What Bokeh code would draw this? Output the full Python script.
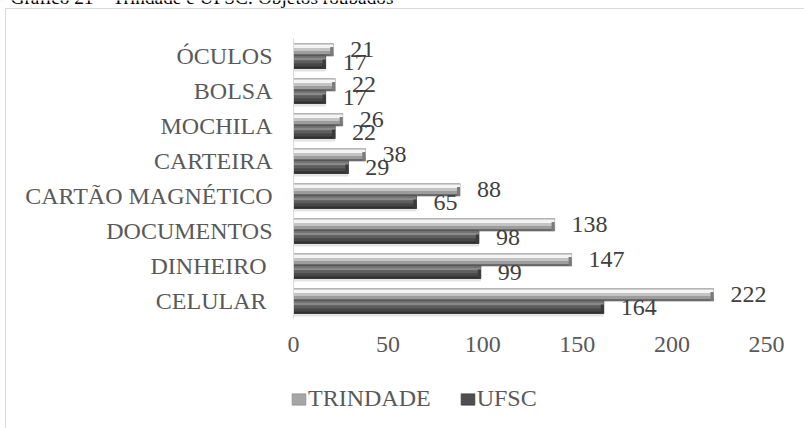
from bokeh.plotting import figure
from bokeh.models import (ColumnDataSource, Range1d, FixedTicker, Legend, LegendItem,
                          LinearAxis, Label)
from bokeh.transform import dodge
from bokeh.core.properties import value
from bokeh.embed import file_html
from bokeh.resources import INLINE

# ---- data ----
title_text = "Gráfico 21 – Trindade e UFSC: Objetos roubados"
categories = ["ÓCULOS", "BOLSA", "MOCHILA", "CARTEIRA", "CARTÃO MAGNÉTICO",
              "DOCUMENTOS", "DINHEIRO ", "CELULAR "]
trindade = [21, 22, 26, 38, 88, 138, 147, 222]
ufsc = [17, 17, 22, 29, 65, 98, 99, 164]
x_ticks = [0, 50, 100, 150, 200, 250]
series_names = ["TRINDADE", "UFSC"]

n = len(categories)
ypos = [n - 1 - i for i in range(n)]   # first category at the top

FONT = "Liberation Serif"
W, H = 804, 428
# plot-area geometry (pixels): value axis 0 at x=293, 250 at x=766,
# category band from y=38 to y=318
X0_PX, X1_PX = 293, 766
Y_TOP_PX, Y_BOT_PX = 38, 318
xs = (X1_PX - X0_PX) / (x_ticks[-1] - x_ticks[0])
UNIT = (Y_BOT_PX - Y_TOP_PX) / n
CAP = 3 / xs                  # bevelled bar end, 3 px wide

src = ColumnDataSource(dict(
    y=ypos,
    trindade=trindade,
    ufsc=ufsc,
    trindade_cap=[max(v - CAP, 0) for v in trindade],
    ufsc_cap=[max(v - CAP, 0) for v in ufsc],
    trindade_lbl=[str(v) for v in trindade],
    ufsc_lbl=[str(v) for v in ufsc],
))

x_range = Range1d(x_ticks[0] - X0_PX / xs, x_ticks[-1] + (W - X1_PX) / xs)
y_range = Range1d(min(ypos) - 0.5 - (H - Y_BOT_PX) / UNIT,
                  max(ypos) + 0.5 + Y_TOP_PX / UNIT)

p = figure(width=W, height=H, x_range=x_range, y_range=y_range,
           x_axis_location=None, y_axis_location=None,
           output_backend="svg", toolbar_location=None,
           min_border=0)
p.xgrid.grid_line_color = None
p.ygrid.grid_line_color = None
p.outline_line_color = None

# light chart-area border (behind the transparent canvas)
p.border_fill_alpha = 0
p.background_fill_alpha = 0
p.styles = {
    "background-color": "white",
    "background-image": "linear-gradient(#d9d9d9, #d9d9d9), linear-gradient(#d9d9d9, #d9d9d9)",
    "background-size": "799px 1px, 1px 420px",
    "background-position": "5px 8px, 5px 8px",
    "background-repeat": "no-repeat",
}

BAR = 12.5                     # px per bar
HB = BAR / UNIT

# gradient bands (top px, bottom px, colour) within each bar
t_bands = [(0, 1.5, "#cfcfcf"), (1.5, 4.5, "#f4f4f4"), (4.5, 7.5, "#c4c4c4"),
           (7.5, 10.5, "#9c9c9c"), (10.5, 12.5, "#6a6a6a")]
u_bands = [(0, 1.5, "#6f6f6f"), (1.5, 4.5, "#8a8a8a"), (4.5, 7.5, "#5e5e5e"),
           (7.5, 10.5, "#474747"), (10.5, 12.5, "#2e2e2e")]

# soft shadow
p.hbar(y=dodge("y", -HB - 1.5 / UNIT), right="ufsc", left=0,
       height=3 / UNIT, fill_color="#e4e4e4", line_color=None, source=src)

legend_r = {}
for name, field, bands, top, basec, basel, capc in (
        ("TRINDADE", "trindade", t_bands, HB, "#a6a6a6", "#8c8c8c", "#7a7a7a"),
        ("UFSC", "ufsc", u_bands, 0.0, "#4f4f4f", "#3a3a3a", "#3a3a3a")):
    # base layer (also the legend swatch)
    legend_r[name] = p.hbar(y=dodge("y", top - HB / 2), right=field, left=0,
                            height=HB, fill_color=basec, line_color=basel,
                            line_width=0.8, source=src)
    for a, b, c in bands:
        off = top - (a + b) / 2 / UNIT
        p.hbar(y=dodge("y", off), right=field, left=0,
               height=(b - a) / UNIT, fill_color=c, line_color=None, source=src)
    # darker bevel at the bar end (lower part)
    p.hbar(y=dodge("y", top - 8 / UNIT), right=field, left=field + "_cap",
           height=9 / UNIT, fill_color=capc, line_color=None, source=src)

# category axis line
p.segment(x0=[x_ticks[0]], x1=[x_ticks[0]], y0=[min(ypos) - 0.5], y1=[max(ypos) + 0.5],
          line_color="#d9d9d9", line_width=1)

# value labels
p.text(x="trindade", y=dodge("y", HB / 2), text="trindade_lbl",
       x_offset=17, y_offset=0, text_align="left", text_baseline="middle",
       text_font=value(FONT), text_font_size="24px", text_color="#404040", source=src)
p.text(x="ufsc", y=dodge("y", -HB / 2), text="ufsc_lbl",
       x_offset=17, y_offset=0, text_align="left", text_baseline="middle",
       text_font=value(FONT), text_font_size="24px", text_color="#404040", source=src)

# axes (fixed inside the full-canvas frame)
yax = LinearAxis(fixed_location=x_ticks[0], ticker=FixedTicker(ticks=ypos),
                 major_label_overrides={yy: c for yy, c in zip(ypos, categories)})
yax.axis_line_color = None
yax.major_tick_line_color = None
yax.minor_tick_line_color = None
yax.major_tick_out = 0
yax.major_tick_in = 0
yax.major_label_standoff = 21
yax.major_label_text_font = FONT
yax.major_label_text_font_size = "24px"
yax.major_label_text_color = "#595959"
p.add_layout(yax, "left")

xax = LinearAxis(fixed_location=min(ypos) - 0.5, ticker=FixedTicker(ticks=x_ticks))
xax.axis_line_color = None
xax.major_tick_line_color = None
xax.minor_tick_line_color = None
xax.major_tick_out = 0
xax.major_tick_in = 0
xax.major_label_standoff = 18
xax.major_label_text_font = FONT
xax.major_label_text_font_size = "24px"
xax.major_label_text_color = "#595959"
p.add_layout(xax, "below")

# title (mostly above the visible area, as in the source)
p.add_layout(Label(x=10, y=H + 3, x_units="screen", y_units="screen", text=title_text,
                   text_font=FONT, text_font_size="19.3px", text_color="#000000",
                   text_baseline="alphabetic", text_align="left"))

legend = Legend(items=[LegendItem(label=series_names[0], renderers=[legend_r["TRINDADE"]]),
                       LegendItem(label=series_names[1], renderers=[legend_r["UFSC"]])],
                orientation="horizontal", location=(290, 16),
                glyph_width=17, glyph_height=14, label_standoff=1, spacing=28,
                padding=0, margin=0, border_line_color=None, background_fill_alpha=0,
                label_text_font=FONT, label_text_font_size="24px",
                label_text_color="#595959")
p.add_layout(legend)

open("out.html", "w").write(file_html(p, INLINE))
